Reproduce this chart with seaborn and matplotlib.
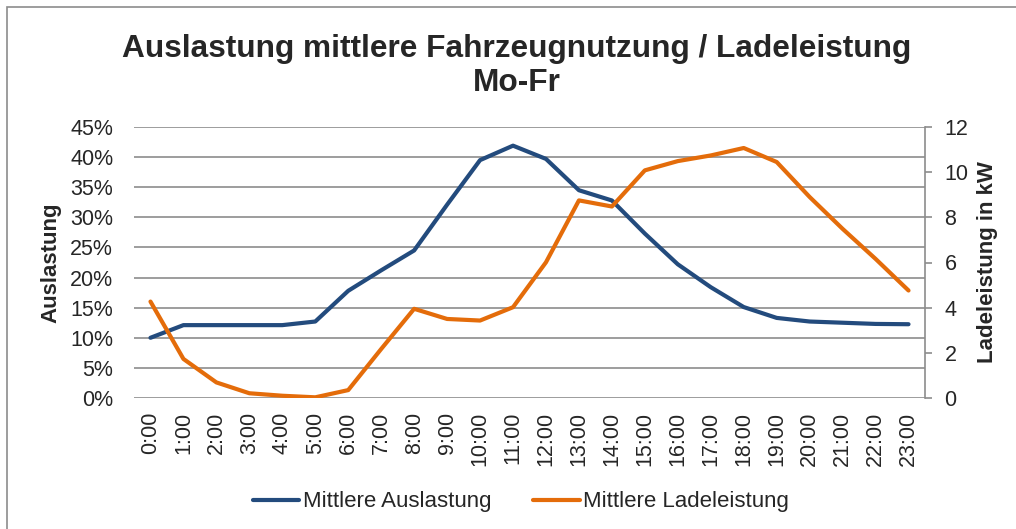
import matplotlib
matplotlib.use("Agg")
import matplotlib.pyplot as plt
import seaborn as sns
import pandas as pd
from matplotlib.patches import Rectangle
from matplotlib.ticker import FuncFormatter, MultipleLocator

hours = list(range(24))
hour_labels = [f"{h}:00" for h in hours]
auslastung = [0.100, 0.121, 0.121, 0.121, 0.121, 0.127, 0.178, 0.212, 0.245, 0.321,
              0.395, 0.419, 0.397, 0.345, 0.328, 0.273, 0.222, 0.184, 0.151, 0.133,
              0.127, 0.125, 0.123, 0.1225]
ladeleistung = [4.27, 1.73, 0.69, 0.21, 0.10, 0.03, 0.35, 2.17, 3.95, 3.50,
                3.43, 4.02, 6.01, 8.75, 8.48, 10.08, 10.49, 10.74, 11.07, 10.45,
                8.90, 7.49, 6.16, 4.76]

title = "Auslastung mittlere Fahrzeugnutzung / Ladeleistung\nMo-Fr"
name_a = "Mittlere Auslastung"
name_l = "Mittlere Ladeleistung"

df = pd.DataFrame({"hour": hours, "a": auslastung, "l": ladeleistung})

sns.set_style("white")
plt.rcParams["font.family"] = ["Liberation Sans", "DejaVu Sans"]

BLUE = "#234B7D"
ORANGE = "#E46C0A"
GRID = "#8C8C8C"
FS = 15.5

fig = plt.figure(figsize=(10.16, 5.29), dpi=100)
ax = fig.add_axes([134/1016, 1-398/529, (925-134)/1016, (398-127)/529])
ax2 = ax.twinx()

sns.lineplot(data=df, x="hour", y="a", ax=ax, color=BLUE, linewidth=3.0, label=name_a, legend=False)
sns.lineplot(data=df, x="hour", y="l", ax=ax2, color=ORANGE, linewidth=3.0, label=name_l, legend=False)

ax.set_xlim(-0.5, 23.5)
ax.set_ylim(0, 0.45)
ax.yaxis.set_major_locator(MultipleLocator(0.05))
ax.yaxis.set_major_formatter(FuncFormatter(lambda v, p: f"{round(v*100)}%"))
ax.grid(axis="y", color=GRID, linewidth=1.2)
ax.grid(axis="x", visible=False)
ax.set_axisbelow(True)
ax.set_xticks(hours)
ax.set_xticklabels(hour_labels, rotation=90, fontsize=FS)
ax.tick_params(axis="x", length=0, pad=10)
ax.tick_params(axis="y", length=0, labelsize=FS, pad=15)
ax.set_xlabel("")
ax.set_ylabel("Auslastung", fontsize=16, fontweight="bold", labelpad=6)

ax2.set_ylim(0, 12)
ax2.yaxis.set_major_locator(MultipleLocator(2))
ax2.tick_params(axis="y", length=5, width=1.2, color=GRID, labelsize=FS, pad=9, direction="out")
ax2.set_ylabel("Ladeleistung in kW", fontsize=16, fontweight="bold", labelpad=6)
ax2.grid(False)

for a in (ax, ax2):
    for s in a.spines.values():
        s.set_visible(False)
ax2.spines["right"].set_visible(True)
ax2.spines["right"].set_color(GRID)
ax2.spines["right"].set_linewidth(1.2)

fig.text(517/1016, 1-66/529, title, ha="center", va="center", fontsize=22.8, fontweight="bold", linespacing=1.16)

h1, l1 = ax.get_legend_handles_labels()
h2, l2 = ax2.get_legend_handles_labels()
fig.legend(h1 + h2, l1 + l2, loc="center", bbox_to_anchor=(521/1016, 1-502/529), ncol=2,
           frameon=False, fontsize=16, handlelength=2.1, handletextpad=0.15, columnspacing=1.9)

fig.patches.append(Rectangle((7/1016, -0.1), 1.2, 1-7/529+0.1, transform=fig.transFigure,
                             fill=False, edgecolor="#8C8C8C", linewidth=1.2))

fig.savefig("out.png", dpi=100)
